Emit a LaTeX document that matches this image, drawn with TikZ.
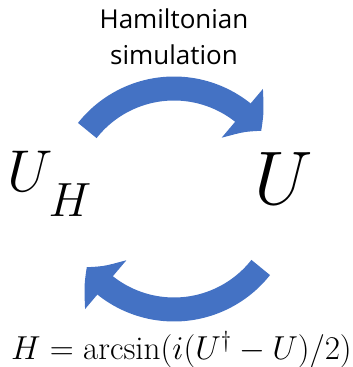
\RequirePackage{fix-cm}
\documentclass[tikz,border=0pt]{standalone}
\usepackage{fontspec}
\newfontfamily\labelfont{Open Sans}
\usetikzlibrary{arrows.meta,bending,positioning}
\definecolor{flowblue}{HTML}{4472C4}

\begin{document}
\begin{tikzpicture}[x=1pt,y=1pt,>=Latex,
  bigarrow/.style={draw=flowblue,line width=24pt,-{Triangle[width=62pt,length=26pt,bend]}}]
\useasboundingbox (0,0) rectangle (353,367);
% centre of the two arcs
\coordinate (c) at (174,168);
\node[anchor=base,align=center,font=\labelfont\fontsize{26}{36}\selectfont] (title) at (174,302){Hamiltonian\\simulation};
\node[anchor=base west,inner sep=0pt,font=\fontsize{59}{59}\selectfont] (uh) at (7,175){$U$\hspace{-4pt}\raisebox{-25pt}{\fontsize{48}{48}\selectfont$H$}};
\node[anchor=base west,inner sep=0pt,font=\fontsize{76}{76}\selectfont] (u) at (254,162){$U$};
\node[anchor=base west,inner sep=0pt,font=\fontsize{33.2}{34}\selectfont] (inv) at (11,7){$H=\arcsin(i(U^\dagger-U)/2)$};
% the two arrows
\draw[bigarrow] ([shift={(141.7:110.5)}]c) arc[start angle=141.7,end angle=38,radius=110.5];
\draw[bigarrow] ([shift={(-38.3:110.5)}]c) arc[start angle=-38.3,end angle=-142,radius=110.5];
\end{tikzpicture}
\end{document}
